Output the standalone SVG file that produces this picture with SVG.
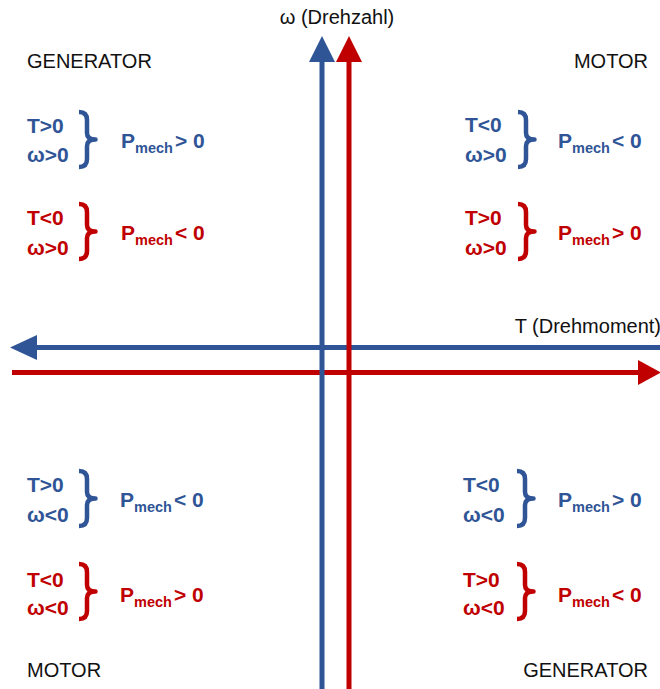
<svg xmlns="http://www.w3.org/2000/svg" width="660" height="689" viewBox="0 0 660 689">
<style>
.lbl{font-family:"Liberation Sans",Arial,sans-serif;font-size:20px;fill:#111}
.c{font-family:"Liberation Sans",Arial,sans-serif;font-size:21px;font-weight:bold}
.sub{font-size:14.5px}
.b{fill:#2F5597}
.r{fill:#C00000}
.bs{stroke:#2F5597}
.rs{stroke:#C00000}
.br{fill:none;stroke-width:4.5;stroke-linecap:butt;stroke-linejoin:round}
.ax{stroke-width:5;fill:none}
</style>
<defs>
<path id="brace" d="M0,0 Q8,0 8,8 L8,21 Q8,27.5 16.5,27.5 Q8,27.5 8,34 L8,47 Q8,55 0,55"/>
</defs>
<g id="connectors">
<line class="ax bs" x1="34" y1="347.5" x2="660" y2="347.5"/>
<polygon class="b" points="10,347.5 37,335 37,360"/>
<line class="ax rs" x1="12" y1="372.5" x2="640" y2="372.5"/>
<polygon class="r" points="661,372.5 638,360 638,385"/>
<line class="ax bs" x1="322" y1="58" x2="322" y2="689"/>
<polygon class="b" points="322,36 309,62 335,62"/>
<line class="ax rs" x1="349" y1="58" x2="349" y2="689"/>
<polygon class="r" points="349,36 336,62 362,62"/>
</g>
<g id="axis-labels">
<text class="lbl" x="337" y="24" text-anchor="middle">ω (Drehzahl)</text>
<text class="lbl" x="661" y="333" text-anchor="end">T (Drehmoment)</text>
</g>
<g id="q-top-left">
<text class="lbl" x="27" y="68">GENERATOR</text>
<g class="c b">
<text x="27" y="133">T&gt;0</text>
<text x="27" y="162">ω&gt;0</text>
<text x="121" y="148">P<tspan class="sub" dy="5">mech</tspan><tspan dy="-5" dx="2">&gt; 0</tspan></text>
</g>
<use href="#brace" class="br bs" transform="translate(79,112)"/>
<g class="c r">
<text x="27" y="225">T&lt;0</text>
<text x="27" y="255">ω&gt;0</text>
<text x="121" y="240">P<tspan class="sub" dy="5">mech</tspan><tspan dy="-5" dx="2">&lt; 0</tspan></text>
</g>
<use href="#brace" class="br rs" transform="translate(79,204)"/>
</g>
<g id="q-top-right">
<text class="lbl" x="648" y="68" text-anchor="end">MOTOR</text>
<g class="c b">
<text x="465" y="132">T&lt;0</text>
<text x="465" y="162">ω&gt;0</text>
<text x="558" y="148">P<tspan class="sub" dy="5">mech</tspan><tspan dy="-5" dx="2">&lt; 0</tspan></text>
</g>
<use href="#brace" class="br bs" transform="translate(518,112)"/>
<g class="c r">
<text x="465" y="225">T&gt;0</text>
<text x="465" y="255">ω&gt;0</text>
<text x="558" y="240">P<tspan class="sub" dy="5">mech</tspan><tspan dy="-5" dx="2">&gt; 0</tspan></text>
</g>
<use href="#brace" class="br rs" transform="translate(518,204)"/>
</g>
<g id="q-bottom-left">
<g class="c b">
<text x="27" y="492">T&gt;0</text>
<text x="27" y="522">ω&lt;0</text>
<text x="120" y="507">P<tspan class="sub" dy="5">mech</tspan><tspan dy="-5" dx="2">&lt; 0</tspan></text>
</g>
<use href="#brace" class="br bs" transform="translate(79,471)"/>
<g class="c r">
<text x="27" y="587">T&lt;0</text>
<text x="27" y="615">ω&lt;0</text>
<text x="120" y="602">P<tspan class="sub" dy="5">mech</tspan><tspan dy="-5" dx="2">&gt; 0</tspan></text>
</g>
<use href="#brace" class="br rs" transform="translate(79,564)"/>
<text class="lbl" x="27" y="677">MOTOR</text>
</g>
<g id="q-bottom-right">
<g class="c b">
<text x="463" y="492">T&lt;0</text>
<text x="463" y="522">ω&lt;0</text>
<text x="558" y="507">P<tspan class="sub" dy="5">mech</tspan><tspan dy="-5" dx="2">&gt; 0</tspan></text>
</g>
<use href="#brace" class="br bs" transform="translate(517,471)"/>
<g class="c r">
<text x="463" y="587">T&gt;0</text>
<text x="463" y="615">ω&lt;0</text>
<text x="558" y="602">P<tspan class="sub" dy="5">mech</tspan><tspan dy="-5" dx="2">&lt; 0</tspan></text>
</g>
<use href="#brace" class="br rs" transform="translate(517,564)"/>
<text class="lbl" x="648" y="677" text-anchor="end">GENERATOR</text>
</g>
</svg>
